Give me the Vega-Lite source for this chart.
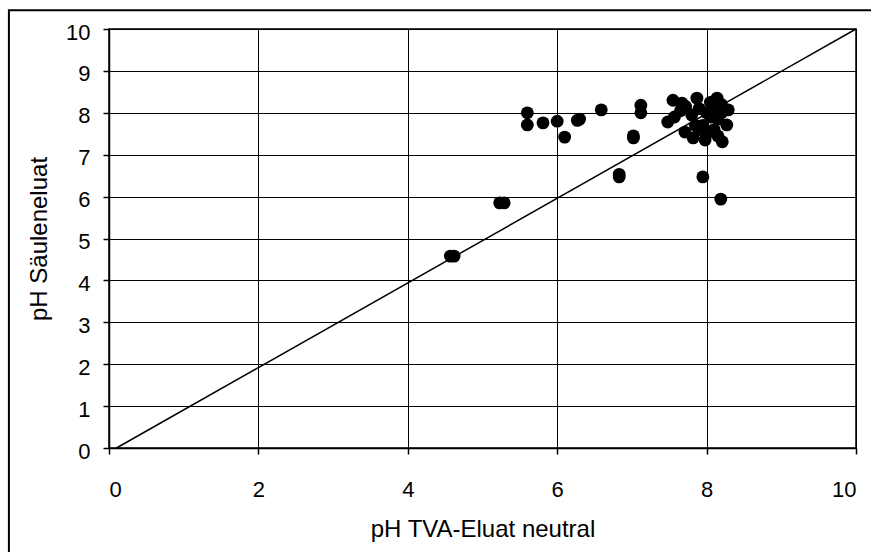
{
  "$schema": "https://vega.github.io/schema/vega-lite/v6.json",
  "width": 747,
  "height": 419,
  "autosize": "none",
  "padding": {"left": 109, "top": 29, "right": 15, "bottom": 104},
  "background": "white",
  "config": {
    "font": "Liberation Sans",
    "view": {"stroke": "black", "strokeWidth": 1.5},
    "axis": {
      "labelFont": "Liberation Sans",
      "titleFont": "Liberation Sans",
      "labelFontSize": 22,
      "titleFontSize": 24,
      "labelColor": "black",
      "titleColor": "black",
      "titleFontWeight": "normal",
      "domainColor": "black",
      "domainWidth": 1.5,
      "tickColor": "black",
      "tickSize": 6,
      "tickWidth": 1.5,
      "grid": true,
      "gridColor": "black",
      "gridWidth": 1,
      "gridOpacity": 1,
      "format": "d"
    }
  },
  "datasets": {
    "messwerte": [
      {"tva": 4.57, "saeule": 4.58}, {"tva": 4.62, "saeule": 4.58},
      {"tva": 5.23, "saeule": 5.85}, {"tva": 5.29, "saeule": 5.85},
      {"tva": 5.6, "saeule": 8.0}, {"tva": 5.6, "saeule": 7.71},
      {"tva": 5.81, "saeule": 7.76}, {"tva": 6.0, "saeule": 7.8},
      {"tva": 6.1, "saeule": 7.42}, {"tva": 6.27, "saeule": 7.82},
      {"tva": 6.3, "saeule": 7.85}, {"tva": 6.59, "saeule": 8.07},
      {"tva": 7.12, "saeule": 8.18}, {"tva": 7.12, "saeule": 8.0},
      {"tva": 7.02, "saeule": 7.4}, {"tva": 7.02, "saeule": 7.45},
      {"tva": 6.83, "saeule": 6.47}, {"tva": 6.83, "saeule": 6.53},
      {"tva": 7.95, "saeule": 6.47}, {"tva": 8.19, "saeule": 5.94},
      {"tva": 7.55, "saeule": 8.3}, {"tva": 7.67, "saeule": 8.23},
      {"tva": 7.72, "saeule": 8.15}, {"tva": 7.87, "saeule": 8.35},
      {"tva": 8.14, "saeule": 8.35}, {"tva": 8.29, "saeule": 8.07},
      {"tva": 8.27, "saeule": 7.71}, {"tva": 8.21, "saeule": 7.31},
      {"tva": 7.98, "saeule": 7.35}, {"tva": 7.82, "saeule": 7.4},
      {"tva": 7.71, "saeule": 7.54}, {"tva": 7.48, "saeule": 7.78},
      {"tva": 7.57, "saeule": 7.9}, {"tva": 8.0, "saeule": 8.0},
      {"tva": 8.05, "saeule": 7.9}, {"tva": 8.1, "saeule": 8.1},
      {"tva": 7.95, "saeule": 7.7}, {"tva": 8.1, "saeule": 7.6},
      {"tva": 8.15, "saeule": 7.85}, {"tva": 7.9, "saeule": 8.1},
      {"tva": 8.0, "saeule": 7.5}, {"tva": 8.2, "saeule": 8.0},
      {"tva": 7.8, "saeule": 7.95}, {"tva": 7.85, "saeule": 7.7},
      {"tva": 8.05, "saeule": 8.25}, {"tva": 8.15, "saeule": 7.45},
      {"tva": 7.9, "saeule": 7.6}, {"tva": 8.2, "saeule": 8.2},
      {"tva": 7.65, "saeule": 8.05}
    ],
    "diagonale": [
      {"tva": 0.1, "saeule": 0},
      {"tva": 10, "saeule": 10}
    ]
  },
  "layer": [
    {
      "data": {"values": [{}]},
      "mark": {"type": "rect", "fill": null, "stroke": "black", "strokeWidth": 2, "clip": false},
      "encoding": {
        "x": {"datum": -1.34, "type": "quantitative", "scale": {"domain": [0, 10], "nice": false}},
        "x2": {"datum": 12},
        "y": {"datum": 10.45, "type": "quantitative", "scale": {"domain": [0, 10], "nice": false}},
        "y2": {"datum": -4}
      }
    },
    {
      "data": {"name": "messwerte"},
      "mark": {"type": "circle", "size": 165, "color": "black", "opacity": 1},
      "encoding": {
        "x": {
          "field": "tva", "type": "quantitative",
          "scale": {"domain": [0, 10], "nice": false},
          "axis": {"values": [0, 2, 4, 6, 8, 10], "title": "pH TVA-Eluat neutral", "labelPadding": 25, "titlePadding": 17}
        },
        "y": {
          "field": "saeule", "type": "quantitative",
          "scale": {"domain": [0, 10], "nice": false},
          "axis": {"values": [0, 1, 2, 3, 4, 5, 6, 7, 8, 9, 10], "title": "pH Säuleneluat", "labelPadding": 13, "labelOffset": 3, "titlePadding": 14}
        }
      }
    },
    {
      "data": {"name": "diagonale"},
      "mark": {"type": "line", "color": "black", "strokeWidth": 1.5},
      "encoding": {
        "x": {"field": "tva", "type": "quantitative"},
        "y": {"field": "saeule", "type": "quantitative"}
      }
    }
  ]
}
